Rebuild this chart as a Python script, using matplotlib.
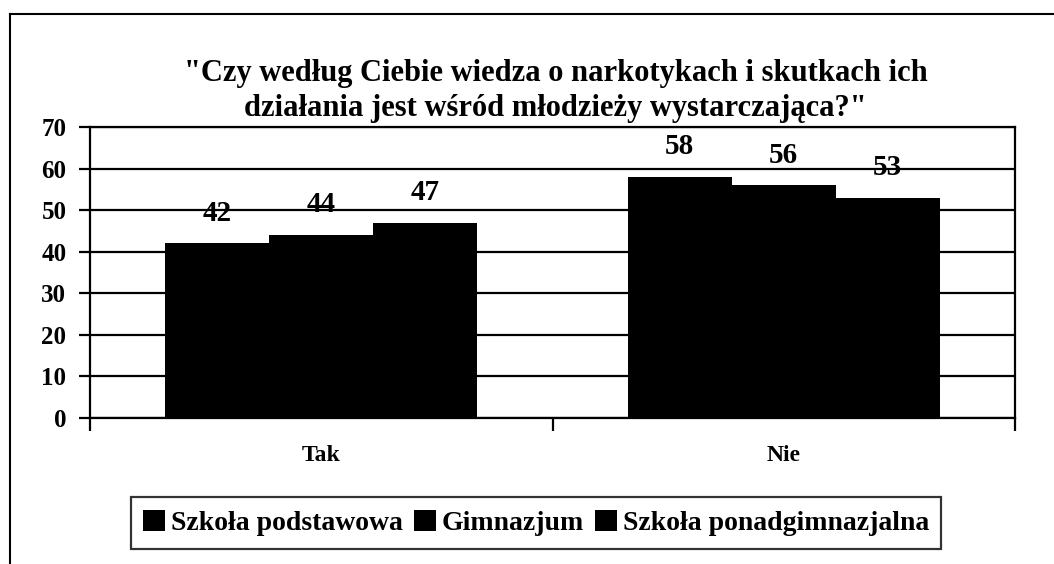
import matplotlib
matplotlib.use('Agg')
import matplotlib.pyplot as plt
import numpy as np
from matplotlib.lines import Line2D

plt.rcParams['font.family'] = ['Liberation Serif', 'DejaVu Serif']
plt.rcParams['font.weight'] = 'bold'

# data
categories = ['Tak', 'Nie']
series_names = ['Szkoła podstawowa', 'Gimnazjum', 'Szkoła ponadgimnazjalna']
podstawowa = [42, 58]
gimnazjum = [44, 56]
ponadgimnazjalna = [47, 53]
title = '"Czy według Ciebie wiedza o narkotykach i skutkach ich\ndziałania jest wśród młodzieży wystarczająca?"'

fig = plt.figure(figsize=(10.54, 5.64), dpi=100)
ax = fig.add_axes([90 / 1054, 1 - 418 / 564, (1015 - 90) / 1054, (418 - 127) / 564])

x = np.arange(len(categories))
width = 0.225
for i, vals in enumerate([podstawowa, gimnazjum, ponadgimnazjalna]):
    bars = ax.bar(x + (i - 1) * width, vals, width, color='black', label=series_names[i], zorder=3)
    for b, v in zip(bars, vals):
        ax.annotate(str(v), (b.get_x() + b.get_width() / 2, v), xytext=(0, 12),
                    textcoords='offset points', ha='center', va='bottom',
                    fontsize=21, fontweight='bold', zorder=4)

ax.set_ylim(0, 70)
ax.set_xlim(-0.5, 1.5)
ax.set_yticks(range(0, 71, 10))
ax.yaxis.grid(True, color='black', linewidth=1.6, zorder=0)
ax.tick_params(axis='y', direction='out', length=8, width=1.6, labelsize=18, pad=9)

# category labels and x ticks at category boundaries
ax.set_xticks([-0.5, 0.5, 1.5])
ax.set_xticklabels([])
ax.tick_params(axis='x', direction='out', length=9, width=1.6)
for xi, c in zip(x, categories):
    ax.text(xi, -0.13, c, transform=ax.get_xaxis_transform(), ha='center', va='center',
            fontsize=17, fontweight='bold')

for s in ax.spines.values():
    s.set_linewidth(1.6)
    s.set_color('black')

fig.text(0.527, 1 - 91 / 564, title, ha='center', va='center', fontsize=22,
         fontweight='bold', linespacing=1.3)

leg = fig.legend(loc='center', bbox_to_anchor=(536 / 1054, 1 - 523 / 564), ncol=3,
                 fontsize=20, frameon=True, fancybox=False, edgecolor='black',
                 handlelength=0.8, handleheight=0.8, handletextpad=0.2,
                 columnspacing=0.4, borderpad=0.45)
leg.get_frame().set_linewidth(1.6)

# outer chart frame (partly cropped in the original)
fx = 10 / 1054
fy = 1 - 14 / 564
fig.add_artist(Line2D([fx, fx], [0, fy], color='black', linewidth=1.5, transform=fig.transFigure))
fig.add_artist(Line2D([fx, 1], [fy, fy], color='black', linewidth=1.5, transform=fig.transFigure))

fig.savefig('out.png', dpi=100)
